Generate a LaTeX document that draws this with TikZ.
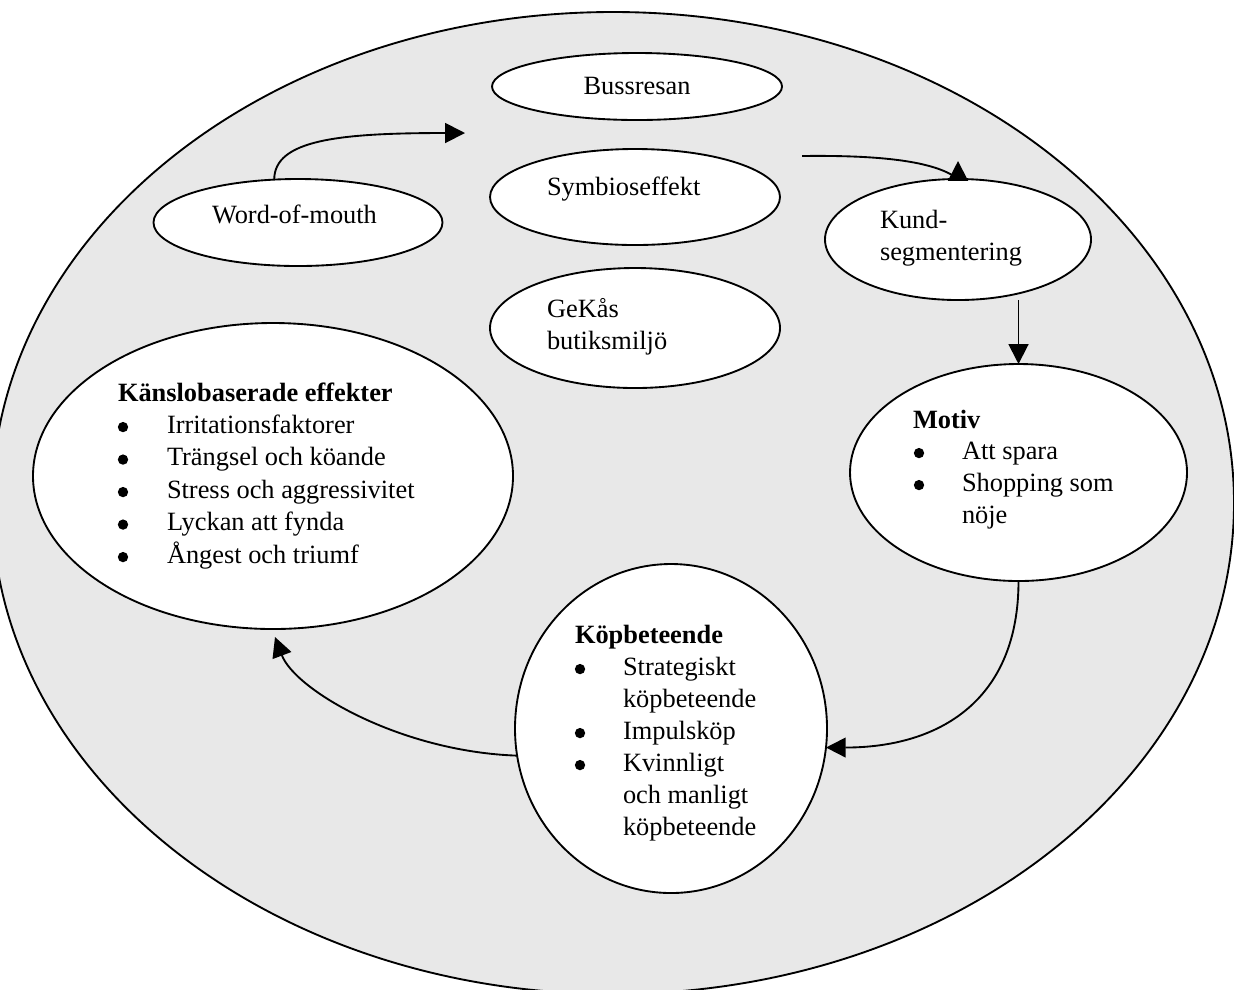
\documentclass[tikz,border=0pt]{standalone}
\usepackage{fontspec}
\setmainfont{Liberation Serif}
\usetikzlibrary{arrows.meta,calc,shapes.geometric}
\definecolor{panelgray}{RGB}{232,232,232}

\begin{document}
\begin{tikzpicture}[x=0.455pt, y=-0.455pt,
  oval/.style 2 args={ellipse, draw=black, line width=0.85pt, fill=white,
    minimum width={#1*0.455pt}, minimum height={#2*0.455pt},
    inner sep=0pt, outer sep=0pt},
  txt/.style={inner sep=0pt, outer sep=0pt, anchor=base west,
    font=\fontsize{12pt}{14.8pt}\selectfont},
  head/.style={txt, font=\fontsize{12pt}{14.8pt}\selectfont\bfseries},
  dot/.style={circle, fill=black, inner sep=0pt, outer sep=0pt,
    minimum size=4.7pt, yshift=2.7pt},
  conn/.style={draw=black, line width=0.85pt,
    -{Triangle[length=9pt, width=9pt]}},
]
\useasboundingbox (0,0) rectangle (1234,989);

% outer frame
\node[oval={1242}{982}, fill=panelgray] (frame) at (613,503) {};

% inner ellipses
\node[oval={290}{67}]  (bus)   at (637,86.5)  {};
\node[oval={290}{96}]  (sym)   at (635,197)   {};
\node[oval={289}{87}]  (wom)   at (298,222.5) {};
\node[oval={266}{121}] (kund)  at (958,239.5) {};
\node[oval={290}{120}] (gekas) at (635,328)   {};
\node[oval={480}{306}] (kans)  at (273,476)   {};
\node[oval={337}{217}] (motiv) at (1018.5,472.5) {};
\node[oval={312}{329}] (kop)   at (671,728.5) {};

% labels
\node[txt, anchor=base] (busT) at (637,94) {Bussresan};
\node[txt] (symT)   at (547,195) {Symbioseffekt};
\node[txt] (womT)   at (212,223) {Word-of-mouth};
\node[txt] (kundT1) at (880,228) {Kund-};
\node[txt] (kundT2) at (880,260) {segmentering};
\node[txt] (gekT1)  at (547,317) {GeKås};
\node[txt] (gekT2)  at (547,349) {butiksmiljö};

% emotional effects list
\node[head] (kansH) at (118,401) {Känslobaserade effekter};
\foreach \t [count=\i] in {Irritationsfaktorer, Trängsel och köande,
    Stress och aggressivitet, Lyckan att fynda, Ångest och triumf}{
  \node[dot] (kansB\i) at (123,400.5+32.5*\i) {};
  \node[txt] (kansT\i) at (167,400.5+32.5*\i) {\t};
}

% motives list
\node[head] (motivH) at (913,428) {Motiv};
\node[dot] (motivB1) at (919,459) {};
\node[txt] (motivT1) at (962,459) {Att spara};
\node[dot] (motivB2) at (919,491) {};
\node[txt] (motivT2) at (962,491) {Shopping som};
\node[txt] (motivT3) at (962,523) {nöje};

% buying behaviour list
\node[head] (kopH) at (575,643) {Köpbeteende};
\node[dot] (kopB1) at (580,675) {};
\node[txt] (kopT1) at (623,675) {Strategiskt};
\node[txt] (kopT2) at (623,707) {köpbeteende};
\node[dot] (kopB2) at (580,739) {};
\node[txt] (kopT3) at (623,739) {Impulsköp};
\node[dot] (kopB3) at (580,771) {};
\node[txt] (kopT4) at (623,771) {Kvinnligt};
\node[txt] (kopT5) at (623,803) {och manligt};
\node[txt] (kopT6) at (623,835) {köpbeteende};

% connectors
\coordinate (womtip)  at (465,133);
\coordinate (symout)  at (802,156);
\coordinate (kundtip) at (958,161);
\coordinate (kanstip) at (275,637);

\draw[conn] (wom.119) .. controls +(0,-40) and +(-125,0) .. (womtip);
\draw[conn] (symout) .. controls +(78,-1) and +(-23,-18) .. (kund.north) -- (kundtip);
\draw[conn] (motiv.north |- kund.south) -- (motiv.north);
\draw[conn] (motiv.south) .. controls +(0,119) and +(114,0) .. (kop.-7);
\draw[conn] (kop.190) .. controls +(-117,-4) and +(20,53) .. (kanstip);
\end{tikzpicture}
\end{document}
